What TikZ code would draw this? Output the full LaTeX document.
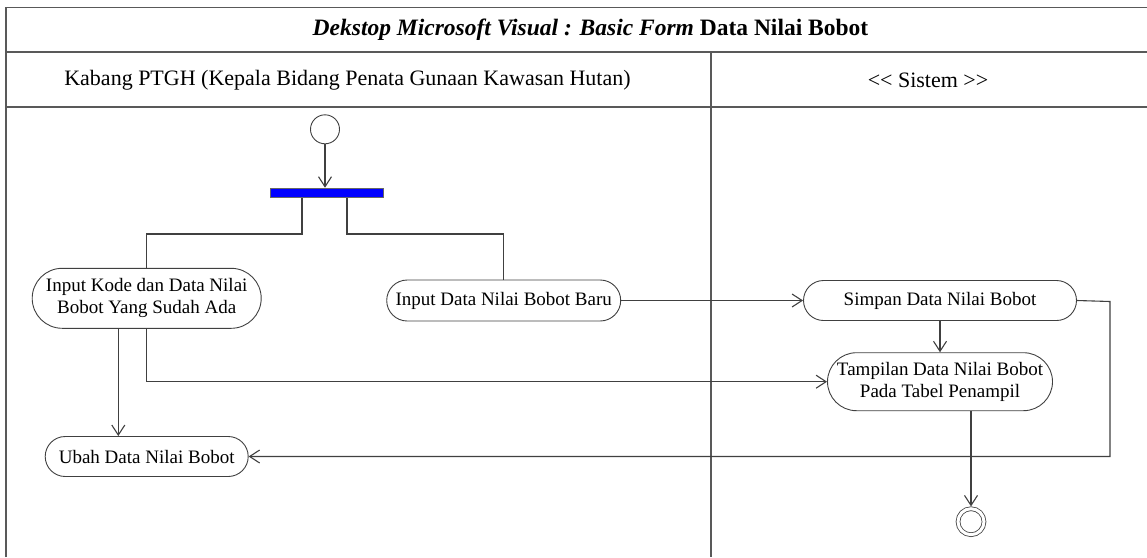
\documentclass[tikz,border=0pt]{standalone}
\usepackage{fontspec}
\setmainfont{Liberation Serif}
\usetikzlibrary{shapes.misc, arrows.meta, positioning}

\begin{document}
\begin{tikzpicture}[x=1pt, y=-1pt, line width=1.1pt, >={Straight Barb[length=10pt, width=13pt]},
  lane/.style={draw=black!65, line width=1.6pt},
  act/.style={rounded rectangle, draw=black!75, line width=0.9pt, inner sep=0pt, align=center, font=\fontsize{19}{22}\selectfont},
  flow/.style={draw=black!75},
  startnode/.style={circle, draw=black!75, line width=0.9pt, minimum size=29pt, inner sep=0pt},
  endnode/.style={circle, draw=black!75, line width=0.8pt, double, double distance=3pt, minimum size=26pt, inner sep=0pt, outer sep=2.3pt},
  forkbar/.style={rectangle, draw=black!60, fill=blue, minimum width=113pt, minimum height=9.5pt, inner sep=0pt}]

  \useasboundingbox (0,0) rectangle (1147,557);

  \draw[lane] (6,557) -- (6,7.3) -- (1150,7.3);
  \draw[lane] (6,52) -- (1150,52);
  \draw[lane] (6,106.7) -- (1150,106.7);
  \draw[lane] (710.7,52) -- (710.7,557);

  \node[font=\fontsize{23.5}{26}\selectfont] (title) at (590.5,29.5) {\bfseries\itshape Dekstop Microsoft Visual : Basic Form \upshape Data Nilai Bobot};
  \node[font=\fontsize{22}{25}\selectfont] (lanekabang) at (347.5,80) {Kabang PTGH (Kepala Bidang Penata Gunaan Kawasan Hutan)};
  \node[font=\fontsize{22}{25}\selectfont] (lanesistem) at (928,80) {<\kern0pt< Sistem >\kern0pt>};

  \node[startnode] (start) at (325,129.3) {};
  \node[forkbar] (fork) at (327,193) {};
  \node[act, minimum width=229pt, minimum height=60pt] (inputkode) at (146.7,298.3) {Input Kode dan Data Nilai\\Bobot Yang Sudah Ada};
  \node[act, minimum width=234pt, minimum height=41pt] (inputbaru) at (503.7,300.5) {Input Data Nilai Bobot Baru};
  \node[act, minimum width=273pt, minimum height=40pt] (simpan) at (940,300.5) {Simpan Data Nilai Bobot};
  \node[act, minimum width=225pt, minimum height=58pt] (tampil) at (940,381.7) {Tampilan Data Nilai Bobot\\Pada Tabel Penampil};
  \node[act, minimum width=203pt, minimum height=40pt] (ubah) at (146.7,456.5) {Ubah Data Nilai Bobot};
  \node[endnode] (finish) at (971,521.7) {};

  \coordinate (loop) at (1110,301.5);

  \draw[flow, ->] (start) -- (start |- fork.north);
  \draw[flow] ([xshift=-25pt]fork.south) -- ++(0,35.7) -| (inputkode.north);
  \draw[flow] ([xshift=20pt]fork.south) -- ++(0,35.7) -| (inputbaru.north);
  \draw[flow, ->] (inputbaru.east) -- (simpan.west);
  \draw[flow, ->] (simpan.south) -- (tampil.north);
  \draw[flow, ->] (inputkode.south) |- (tampil.west);
  \draw[flow, ->] ([xshift=-28.4pt]inputkode.south) -- ([xshift=-28.4pt]inputkode.south |- ubah.north);
  \draw[flow, ->] (simpan.east) -- (loop) |- (ubah.east);
  \draw[flow, ->] ([xshift=31pt]tampil.south) -- (finish.north);
\end{tikzpicture}
\end{document}
